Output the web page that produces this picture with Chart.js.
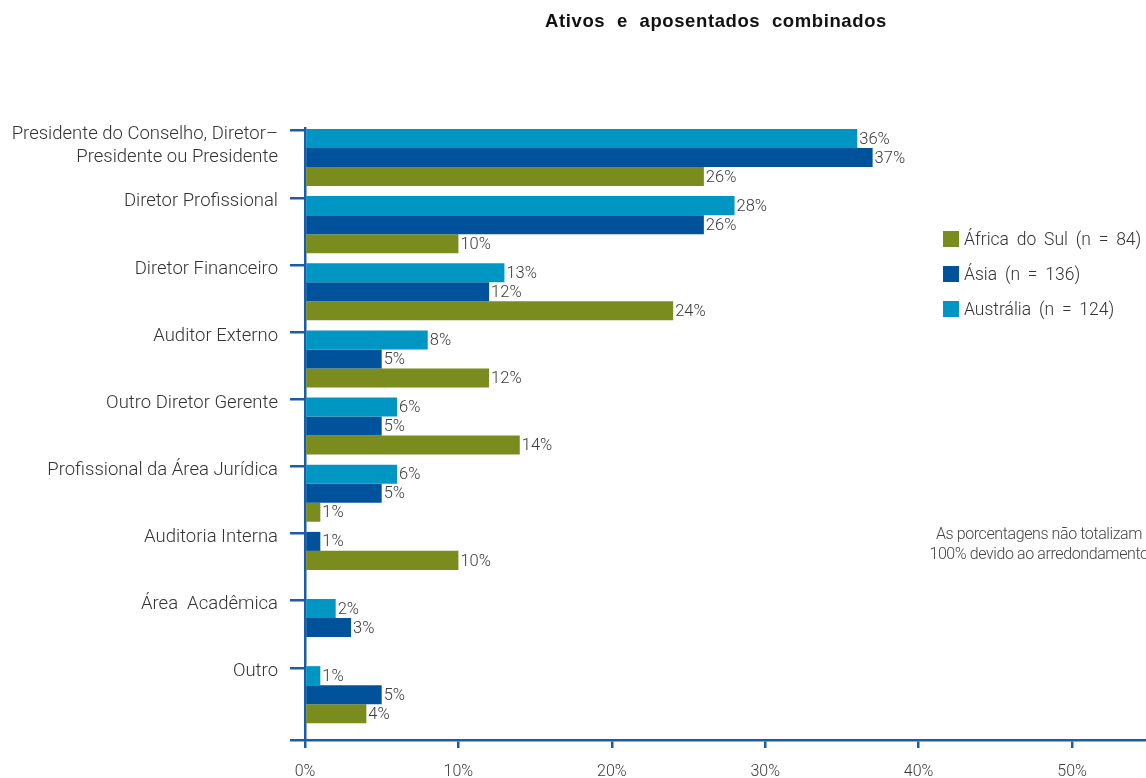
<!DOCTYPE html>
<html>
<head>
<meta charset="utf-8">
<script src="https://cdn.jsdelivr.net/npm/chart.js@4/dist/chart.umd.min.js"></script>
<style>
  html, body { margin: 0; padding: 0; background: #fff; overflow: hidden; }
  #wrap { position: relative; width: 1146px; height: 778px; }
  #title { position: absolute; left: 0; width: 1432px; top: 10px; text-align: center;
           font-family: "Liberation Sans", Arial, sans-serif; font-weight: bold; font-size: 18.5px;
           letter-spacing: 0.6px; word-spacing: 6px; color: #111; white-space: nowrap; }
  #legend { position: absolute; left: 943px; top: 221px; font-family: Roboto, "Open Sans", sans-serif;
            font-weight: 300; font-size: 17.5px; color: #333; }
  .li { display: flex; align-items: center; height: 35px; white-space: nowrap; word-spacing: 3.5px; }
  .sw { width: 16px; height: 16px; margin-right: 5px; flex: none; }
  #note { position: absolute; left: 919px; width: 240px; top: 524px; text-align: center;
          font-family: Roboto, "Open Sans", sans-serif; font-weight: 300; font-size: 16px;
          line-height: 20px; color: #444; white-space: nowrap; letter-spacing: -0.4px; }
</style>
</head>
<body>
<div id="wrap">
  <canvas id="c" width="1146" height="778"></canvas>
  <div id="title">Ativos e aposentados combinados</div>
  <div id="legend"></div>
  <div id="note">As porcentagens não totalizam<br>100% devido ao arredondamento</div>
</div>
<script>
// ---- Data ----
const categories = [
  ['', 'Presidente do Conselho, Diretor–', 'Presidente ou Presidente'],
  'Diretor Profissional',
  'Diretor Financeiro',
  'Auditor Externo',
  'Outro Diretor Gerente',
  'Profissional da Área Jurídica',
  'Auditoria Interna',
  'Área  Acadêmica',
  'Outro'
];
const australia    = [36, 28, 13, 8, 6, 6, null, 2, 1];
const asia         = [37, 26, 12, 5, 5, 5, 1, 3, 5];
const africaDoSul  = [26, 10, 24, 12, 14, 1, 10, null, 4];
const seriesLabels = ['Austrália (n = 124)', 'Ásia (n = 136)', 'África do Sul (n = 84)'];
const xTickValues  = [0, 10, 20, 30, 40, 50];

const colors = ['#0096c4', '#00529b', '#7a8c1e'];
const axisColor = '#1b5ca8';

function toPoints(arr) {
  const pts = [];
  arr.forEach((v, i) => { if (v !== null) pts.push({ x: v, y: i }); });
  return pts;
}

const datasets = [australia, asia, africaDoSul].map((arr, k) => ({
  label: seriesLabels[k],
  data: toPoints(arr),
  backgroundColor: colors[k],
  borderWidth: 0,
  categoryPercentage: 0.849,
  barPercentage: 1.0
}));

// legend (HTML, reversed order as in reference)
const legendEl = document.getElementById('legend');
datasets.slice().reverse().forEach(ds => {
  const d = document.createElement('div');
  d.className = 'li';
  d.innerHTML = '<span class="sw" style="background:' + ds.backgroundColor + '"></span><span>' + ds.label + '</span>';
  legendEl.appendChild(d);
});

const Y_MIN = -0.439, Y_MAX = 8.675;

// Move bars up when an earlier series is missing in a group
const compactGroups = {
  id: 'compactGroups',
  afterDatasetsUpdate(chart) {
    for (let i = 0; i < categories.length; i++) {
      let missing = 0;
      chart.data.datasets.forEach((ds, k) => {
        const meta = chart.getDatasetMeta(k);
        const j = ds.data.findIndex(p => p.y === i);
        if (j < 0) { missing++; return; }
        const el = meta.data[j];
        if (missing) el.y -= missing * el.height;
      });
    }
  }
};

const valueLabels = {
  id: 'valueLabels',
  afterDatasetsDraw(chart) {
    const ctx = chart.ctx;
    ctx.save();
    ctx.font = '300 16.5px Roboto, "Open Sans", sans-serif';
    ctx.fillStyle = '#3a3a3a';
    ctx.textAlign = 'left';
    ctx.textBaseline = 'middle';
    chart.data.datasets.forEach((ds, k) => {
      const meta = chart.getDatasetMeta(k);
      meta.data.forEach((el, j) => {
        ctx.fillText(ds.data[j].x + '%', el.x + 2, el.y + 1);
      });
    });
    ctx.restore();
  }
};

new Chart(document.getElementById('c'), {
  type: 'bar',
  data: { datasets },
  options: {
    indexAxis: 'y',
    responsive: false,
    animation: false,
    layout: { padding: { top: 128, right: 0, bottom: 0, left: 0 } },
    plugins: { legend: { display: false }, tooltip: { enabled: false } },
    scales: {
      x: {
        type: 'linear',
        min: 0,
        max: 54.82,
        afterBuildTicks(scale) { scale.ticks = xTickValues.map(v => ({ value: v })); },
        afterFit(scale) { scale.height = 38; scale.paddingLeft = 0; scale.paddingRight = 0; },
        ticks: {
          callback: v => v + '%',
          font: { family: 'Roboto, "Open Sans", sans-serif', size: 16, weight: 300 },
          color: '#3a3a3a',
          padding: 14
        },
        grid: { offset: false, drawOnChartArea: false, drawTicks: true, tickLength: 8, color: axisColor, lineWidth: 2.5 },
        border: { color: axisColor, width: 2.5 }
      },
      y: {
        type: 'linear',
        reverse: true,
        offset: false,
        min: Y_MIN,
        max: Y_MAX,
        afterBuildTicks(scale) {
          const t = categories.map((_, i) => ({ value: i - 0.4 }));
          t.push({ value: Y_MAX });
          scale.ticks = t;
        },
        afterFit(scale) { scale.width = 305; scale.paddingTop = 0; scale.paddingBottom = 0; },
        ticks: {
          callback: (v, idx) => (idx < categories.length ? categories[idx] : ''),
          font: { family: 'Roboto, "Open Sans", sans-serif', size: 18.5, weight: 300, lineHeight: 1.25 },
          color: '#333',
          padding: 12,
          labelOffset: 4,
          autoSkip: false
        },
        grid: { offset: false, drawOnChartArea: false, drawTicks: true, tickLength: 15, color: axisColor, lineWidth: 2.5 },
        border: { color: axisColor, width: 2.5 }
      }
    }
  },
  plugins: [compactGroups, valueLabels]
});
</script>
</body>
</html>
